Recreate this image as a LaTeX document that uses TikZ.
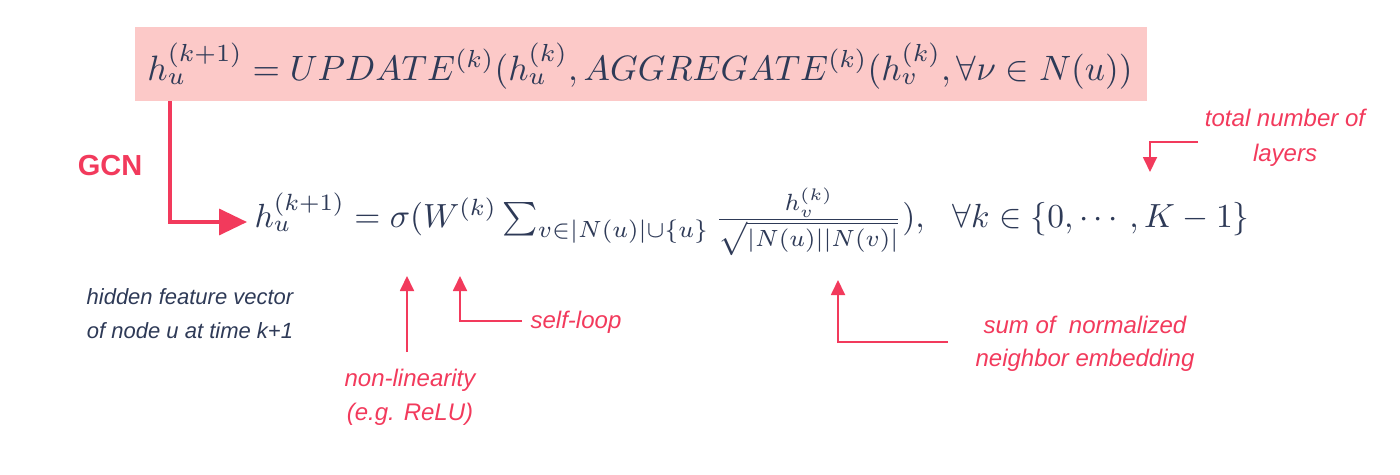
\documentclass[tikz,border=0pt]{standalone}
\usepackage{amsmath,amssymb}
\usepackage{fontspec}
\setsansfont{Liberation Sans}
\definecolor{pinkbox}{HTML}{FCC9C8}
\definecolor{accent}{HTML}{F23A5C}
\definecolor{ink}{HTML}{2E3A57}
\usetikzlibrary{arrows.meta}
\tikzset{
 lab/.style={font=\sffamily\itshape\fontsize{24}{26}\selectfont,text=accent,inner sep=0},
 graylab/.style={font=\sffamily\itshape\fontsize{22}{24}\selectfont,text=ink,inner sep=0},
 conn/.style={draw=accent,line width=1.8pt,-{Triangle[length=15pt,width=14pt]}},
 bigconn/.style={draw=accent,line width=3.5pt,-{Triangle[length=28pt,width=26pt]}}
}
\begin{document}
\begin{tikzpicture}[x=1pt,y=-1pt]
\useasboundingbox (0,0) rectangle (1400,474);
\fill[pinkbox] (135,27) rectangle (1147,101);
\node[text=ink,inner sep=0] (top) at (640,66) {\resizebox{985pt}{!}{$h_u^{(k+1)}=UPDATE^{(k)}(h_u^{(k)},AGGREGATE^{(k)}(h_v^{(k)},\forall\nu\in N(u))$}};
\node[text=ink,inner sep=0] (low) at (752,222) {\resizebox{995pt}{!}{$h_u^{(k+1)}=\sigma(W^{(k)}\sum_{v\in|N(u)|\cup\{u\}}\frac{h_v^{(k)}}{\sqrt{|N(u)||N(v)|}}),\ \ \forall k\in\{0,\cdots,K-1\}$}};
\node[font=\sffamily\bfseries\fontsize{29}{31}\selectfont,text=accent,inner sep=0] (gcn) at (110,166) {GCN};
\coordinate (b1) at (170,101);
\coordinate (b2) at (170,222);
\coordinate (b3) at (247,222);
\draw[bigconn] (b1) -- (b2) -- (b3);
\node[graylab] (h1) at (190,297) {hidden feature vector};
\node[graylab] (h2) at (190,331) {of node u at time k+1};
\node[lab] (nl1) at (410,380) {non-linearity};
\node[lab] (nl2) at (410,414) {(e.g. ReLU)};
\coordinate (a1) at (407,352); \coordinate (a1e) at (407,276);
\draw[conn] (a1) -- (a1e);
\node[lab] (sl) at (576,322) {self-loop};
\coordinate (s1) at (522,321); \coordinate (s2) at (460,321); \coordinate (s3) at (460,276);
\draw[conn] (s1) -- (s2) -- (s3);
\node[lab] (sum1) at (1085,325) {sum of \ normalized};
\node[lab] (sum2) at (1085,360) {neighbor embedding};
\coordinate (n1) at (948,342); \coordinate (n2) at (838,342); \coordinate (n3) at (838,280);
\draw[conn] (n1) -- (n2) -- (n3);
\node[lab] (t1) at (1285,118) {total number of};
\node[lab] (t2) at (1285,155) {layers};
\coordinate (k1) at (1198,142); \coordinate (k2) at (1150,142); \coordinate (k3) at (1150,172);
\draw[conn] (k1) -- (k2) -- (k3);
\end{tikzpicture}
\end{document}
